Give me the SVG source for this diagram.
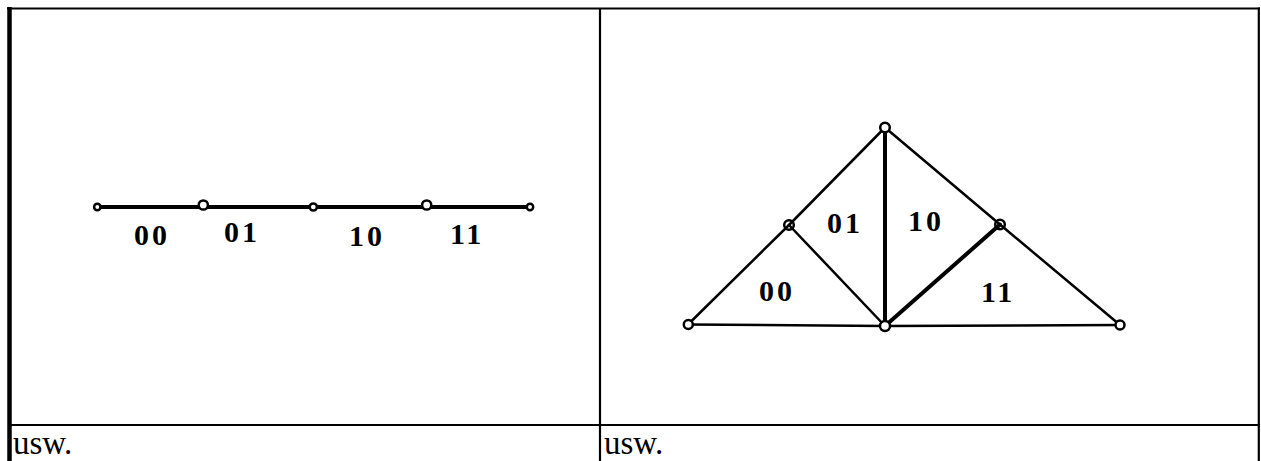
<svg xmlns="http://www.w3.org/2000/svg" width="1261" height="461" viewBox="0 0 1261 461">
<style>
.frame{stroke:#000;fill:none}
.ln{stroke:#000;stroke-width:2.5;fill:none;stroke-linecap:round}
.thick{stroke:#000;stroke-width:4;fill:none;stroke-linecap:round}
.node{fill:#fff;stroke:#000;stroke-width:2.5}
.lbl{font-family:"Liberation Serif","Times New Roman",serif;font-size:30px;font-weight:bold;letter-spacing:3px;fill:#000}
.usw{font-family:"Liberation Serif","Times New Roman",serif;font-size:33px;fill:#000}
</style>
<rect width="1261" height="461" fill="#fff"/>
<g id="table">
<line class="frame" x1="9.5" y1="7" x2="9.5" y2="461" stroke-width="4.5"/>
<line class="frame" x1="7" y1="8.5" x2="1260" y2="8.5" stroke-width="2.2"/>
<line class="frame" x1="1258.8" y1="7.5" x2="1258.8" y2="461" stroke-width="2.2"/>
<line class="frame" x1="600" y1="8" x2="600" y2="461" stroke-width="2.2"/>
<line class="frame" x1="8" y1="425" x2="1260" y2="425" stroke-width="2.2"/>
<text class="usw" x="13" y="453.5">usw.</text>
<text class="usw" x="604" y="453.5">usw.</text>
</g>
<g id="connectors">
<line class="thick" x1="97" y1="207" x2="530" y2="207" stroke-width="3.8"/>
<line class="ln" x1="688" y1="324.5" x2="789" y2="225"/>
<line class="ln" x1="789" y1="225" x2="885" y2="127.5"/>
<line class="ln" x1="885" y1="127.5" x2="1000" y2="224.5"/>
<line class="ln" x1="1000" y1="224.5" x2="1120" y2="325"/>
<line class="ln" x1="688" y1="324.5" x2="885" y2="326"/>
<line class="ln" x1="885" y1="326" x2="1120" y2="325"/>
<line class="ln" x1="789" y1="225" x2="885" y2="326"/>
<line class="thick" x1="885" y1="127.5" x2="885" y2="326"/>
<line class="thick" x1="1000" y1="224.5" x2="885" y2="326"/>
</g>
<g id="line-nodes">
<circle class="node" cx="97.3" cy="207" r="3.2"/>
<circle class="node" cx="203.3" cy="205" r="4.6"/>
<circle class="node" cx="313.3" cy="207" r="3.6"/>
<circle class="node" cx="426.7" cy="205" r="4.6"/>
<circle class="node" cx="530" cy="207" r="3.2"/>
</g>
<g id="tri-nodes">
<circle class="node" cx="885" cy="127.5" r="4.8"/>
<circle class="node" cx="789" cy="225" r="4.8" fill-opacity="0"/>
<circle class="node" cx="1000" cy="224.5" r="4.8" fill-opacity="0"/>
<circle class="node" cx="688.3" cy="324.5" r="4.5"/>
<circle class="node" cx="885" cy="326" r="5"/>
<circle class="node" cx="1120" cy="325" r="4.5"/>
</g>
<g id="labels">
<text class="lbl" x="134" y="244.5">00</text>
<text class="lbl" x="224" y="242">01</text>
<text class="lbl" x="349" y="246">10</text>
<text class="lbl" x="450" y="243.5">11</text>
<text class="lbl" x="759" y="301">00</text>
<text class="lbl" x="827" y="233">01</text>
<text class="lbl" x="908" y="231">10</text>
<text class="lbl" x="981" y="301.5">11</text>
</g>
</svg>
